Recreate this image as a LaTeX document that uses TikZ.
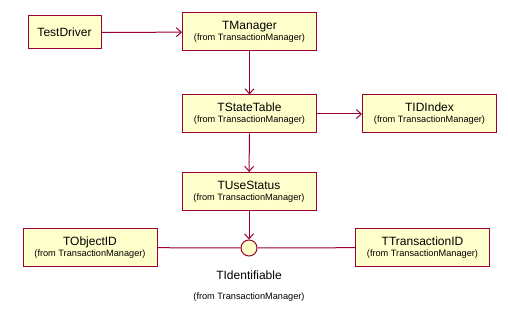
\documentclass[tikz,border=0pt]{standalone}
\usepackage{fontspec}
\setmainfont{Liberation Sans}
\usetikzlibrary{arrows.meta}
\definecolor{umlred}{HTML}{990033}
\definecolor{umlfill}{HTML}{FFFFCC}
\newcommand{\fromtm}{{\fontsize{9.2}{10}\selectfont (from TransactionManager)}}

\begin{document}
\begin{tikzpicture}[x=1pt,y=-1pt,>={Straight Barb[length=5pt,width=9pt]},
  every node/.style={font=\fontsize{12}{14}\selectfont},
  cls/.style={draw=umlred,fill=umlfill,line width=1pt,minimum width=134pt,minimum height=38pt,align=center,inner sep=0pt}]
  \useasboundingbox (0,0) rectangle (508,312);
  \node[cls,minimum width=73pt,minimum height=33pt] (drv) at (64.5,32.5) {TestDriver};
  \node[cls] (mgr) at (249.5,32) {TManager\\[-3pt]\fromtm};
  \node[cls] (tbl) at (249.5,114) {TStateTable\\[-3pt]\fromtm};
  \node[cls] (idx) at (429.5,114) {TIDIndex\\[-3pt]\fromtm};
  \node[cls] (use) at (249,191.5) {TUseStatus\\[-3pt]\fromtm};
  \node[cls] (obj) at (90,247.5) {TObjectID\\[-3pt]\fromtm};
  \node[cls] (trn) at (422.5,247.5) {TTransactionID\\[-3pt]\fromtm};
  % interface lollipop
  \node[circle,draw=umlred,fill=umlfill,line width=1pt,minimum size=16pt,inner sep=0pt] (ident) at (249,248) {};
  \node (identlbl) at (249,275) {TIdentifiable};
  \node (identfrom) at (249,297) {\fromtm};
  \draw[->,umlred,line width=1pt] (drv) -- (mgr);
  \draw[->,umlred,line width=1pt] (mgr) -- (tbl);
  \draw[->,umlred,line width=1pt] (tbl) -- (idx);
  \draw[->,umlred,line width=1pt] (tbl) -- (use);
  \draw[->,umlred,line width=1pt] (use) -- (ident);
  \draw[umlred,line width=1pt] (obj) -- (ident) -- (trn);
\end{tikzpicture}
\end{document}
